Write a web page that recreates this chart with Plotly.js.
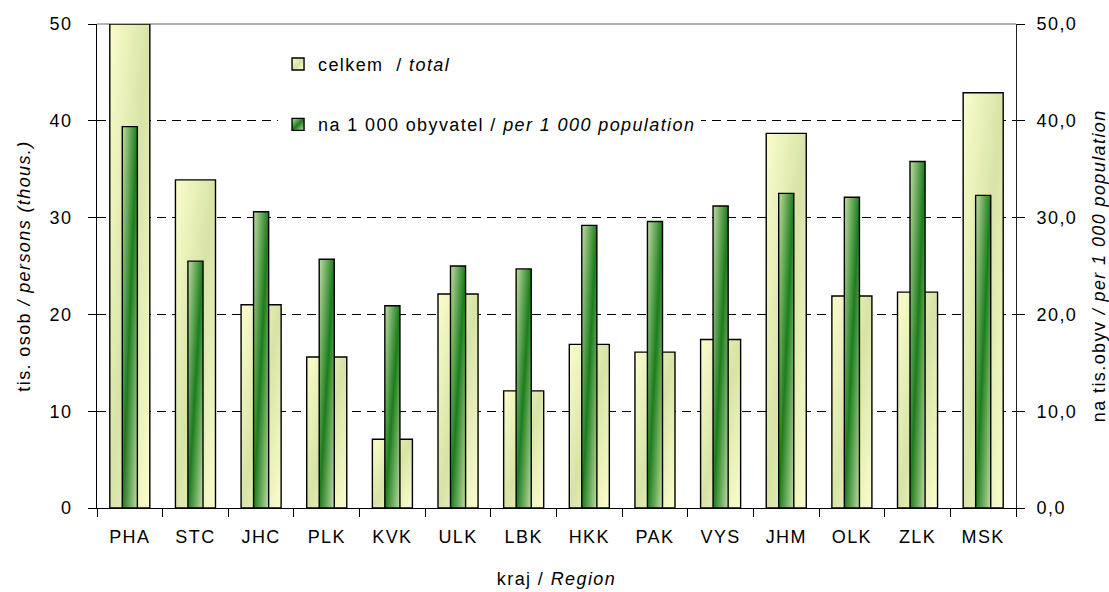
<!DOCTYPE html>
<html>
<head>
<meta charset="utf-8">
<script src="https://cdn.plot.ly/plotly-3.0.1.min.js"></script>
<style>
html,body{margin:0;padding:0;background:#fff;}
#chart{width:1109px;height:592px;}
svg text{letter-spacing:1.4px;}
</style>
</head>
<body>
<div id="chart"></div>
<script>
const categories = ["PHA","STC","JHC","PLK","KVK","ULK","LBK","HKK","PAK","VYS","JHM","OLK","ZLK","MSK"];
const totalThous = [50.0, 33.9, 21.0, 15.6, 7.1, 22.1, 12.1, 16.9, 16.1, 17.4, 38.7, 21.9, 22.3, 42.9];
const per1000 = [39.4, 25.5, 30.6, 25.7, 20.9, 25.0, 24.7, 29.2, 29.6, 31.2, 32.5, 32.1, 35.8, 32.3];
const leftTicks = [0, 10, 20, 30, 40, 50];

const FONT = "Liberation Sans, Arial, sans-serif";

const traces = [
  {
    type: "bar",
    x: categories,
    y: totalThous,
    name: "celkem  / <i>total</i>",
    legendgroup: "a",
    width: 0.61,
    marker: {color: "#eef3bb", line: {color: "#000", width: 1.4}},
    xaxis: "x", yaxis: "y",
    hoverinfo: "skip"
  },
  {
    type: "bar",
    x: categories,
    y: per1000,
    name: "na 1 000 obyvatel / <i>per 1 000 population</i>",
    legendgroup: "b",
    width: 0.23,
    marker: {color: "#4f9a3c", line: {color: "#000", width: 1.4}},
    xaxis: "x", yaxis: "y2",
    hoverinfo: "skip"
  }
];

const layout = {
  width: 1109, height: 592,
  margin: {l: 97, r: 93, t: 24, b: 84},
  paper_bgcolor: "#fff", plot_bgcolor: "#fff",
  font: {family: FONT, size: 18, color: "#000"},
  separators: ", ",
  barmode: "overlay",
  showlegend: true,
  legend: {
    x: 0.197, xanchor: "left", y: 0.955, yanchor: "top",
    bgcolor: "#fff", borderwidth: 0,
    font: {family: FONT, size: 18, color: "#000"},
    traceorder: "grouped", tracegroupgap: 34
  },
  xaxis: {
    type: "category",
    showline: true, linecolor: "#000", linewidth: 1,
    ticks: "outside", ticklen: 8, tickcolor: "#000", tickson: "boundaries",
    ticklabelstandoff: 12,
    showgrid: false, zeroline: false,
    tickfont: {family: FONT, size: 18},
    automargin: false,
    title: {text: "kraj / <i>Region</i>", font: {family: FONT, size: 18}, standoff: 26}
  },
  yaxis: {
    range: [0, 50], tickvals: leftTicks,
    showline: true, linecolor: "#000", linewidth: 1,
    ticks: "outside", ticklen: 8, tickcolor: "#000",
    ticklabelstandoff: 12,
    showgrid: true, gridcolor: "#000", gridwidth: 1, griddash: "9px,6px",
    zeroline: false,
    tickfont: {family: FONT, size: 18},
    automargin: true,
    title: {text: "tis. osob <i>/ persons (thous.)</i>", font: {family: FONT, size: 18}, standoff: 14}
  },
  yaxis2: {
    overlaying: "y", side: "right",
    range: [0, 50], tickvals: leftTicks, tickformat: ".1f",
    showline: true, linecolor: "#222", linewidth: 1,
    ticks: "outside", ticklen: 8, tickcolor: "#000",
    ticklabelstandoff: 8,
    showgrid: false, zeroline: false,
    tickfont: {family: FONT, size: 18},
    automargin: false
  },
  annotations: [
    {text: "na tis.obyv <i>/ per 1 000 population</i>", xref: "paper", yref: "paper",
     x: 1.0905, y: 0.5, xanchor: "center", yanchor: "middle", textangle: -90,
     showarrow: false, font: {family: FONT, size: 18, color: "#000"}}
  ],
  shapes: [
    {type: "line", xref: "paper", yref: "paper", x0: 0, x1: 1, y0: 1, y1: 1,
     line: {color: "#9a9a9a", width: 1.5}, layer: "below"}
  ]
};

function addGradients(gd) {
  const svg = gd.querySelector("svg.main-svg");
  const NS = "http://www.w3.org/2000/svg";
  let defs = svg.querySelector("defs");
  if (!defs) { defs = document.createElementNS(NS, "defs"); svg.insertBefore(defs, svg.firstChild); }
  function grad(id, stops) {
    const g = document.createElementNS(NS, "linearGradient");
    g.setAttribute("id", id);
    g.setAttribute("x1", "0"); g.setAttribute("y1", "0");
    g.setAttribute("x2", "1"); g.setAttribute("y2", "1");
    stops.forEach(s => {
      const st = document.createElementNS(NS, "stop");
      st.setAttribute("offset", s[0]);
      st.setAttribute("stop-color", s[1]);
      g.appendChild(st);
    });
    defs.appendChild(g);
  }
  grad("gWide", [["0", "#fbfdcc"], ["0.5", "#d7e4a6"], ["1", "#fbfdcc"]]);
  grad("gNarrow", [["0", "#c2dca6"], ["0.5", "#1c7d1c"], ["1", "#c2dca6"]]);
  gd.querySelectorAll(".xy .barlayer .point path").forEach(p => p.style.fill = "url(#gWide)");
  gd.querySelectorAll(".xy2 .barlayer .point path").forEach(p => p.style.fill = "url(#gNarrow)");
  const legendTraces = gd.querySelectorAll(".legend .traces");
  legendTraces.forEach((t, i) => {
    t.querySelectorAll(".legendpoints path").forEach(p => {
      p.style.fill = i === 0 ? "url(#gWide)" : "url(#gNarrow)";
    });
  });
}

Plotly.newPlot("chart", traces, layout, {staticPlot: true, displayModeBar: false}).then(addGradients);
</script>
</body>
</html>
